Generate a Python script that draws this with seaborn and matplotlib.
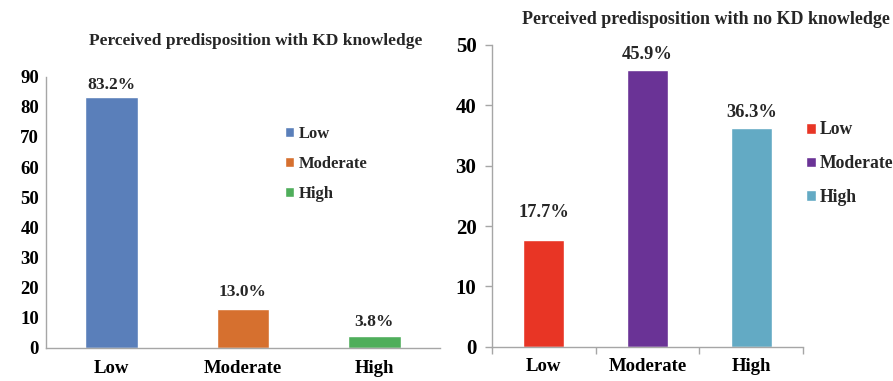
import matplotlib
matplotlib.use("Agg")
import matplotlib.pyplot as plt
import seaborn as sns
import pandas as pd

categories = ["Low", "Moderate", "High"]
with_kd = [83.2, 13.0, 3.8]
no_kd = [17.7, 45.9, 36.3]
with_kd_labels = ["83.2%", "13.0%", "3.8%"]
no_kd_labels = ["17.7%", "45.9%", "36.3%"]
title_left = "Perceived predisposition with KD knowledge"
title_right = "Perceived predisposition with no KD knowledge"
left_yticks = [0, 10, 20, 30, 40, 50, 60, 70, 80, 90]
right_yticks = [0, 10, 20, 30, 40, 50]

colors_left = ["#5A7FBA", "#D6702F", "#4FAE5B"]
colors_right = ["#E83525", "#6A3396", "#63AAC4"]

sns.set_theme(style="white")
plt.rcParams["font.family"] = ["Liberation Serif", "DejaVu Serif"]
plt.rcParams["font.weight"] = "bold"

W, H = 893, 381
fig = plt.figure(figsize=(W / 100, H / 100), dpi=100)

def px_axes(x0, y_top, x1, y_bot):
    return fig.add_axes([x0 / W, 1 - y_bot / H, (x1 - x0) / W, (y_bot - y_top) / H])

axL = px_axes(46, 76.7, 440, 347.7)
axR = px_axes(491.7, 45, 803.3, 346.7)

dfL = pd.DataFrame({"cat": categories, "val": with_kd})
dfR = pd.DataFrame({"cat": categories, "val": no_kd})

sns.barplot(data=dfL, x="cat", y="val", hue="cat", palette=colors_left,
            width=0.4, ax=axL, legend=True, saturation=1)
sns.barplot(data=dfR, x="cat", y="val", hue="cat", palette=colors_right,
            width=0.4, ax=axR, legend=True, saturation=1)

spine_col = "#A6A6A6"
for ax, yt, top in [(axL, left_yticks, 90), (axR, right_yticks, 50)]:
    ax.set_ylim(0, top)
    ax.set_xlim(-0.5, 2.5)
    ax.set_yticks(yt)
    ax.set_xlabel("")
    ax.set_ylabel("")
    for s in ["top", "right"]:
        ax.spines[s].set_visible(False)
    for s in ["left", "bottom"]:
        ax.spines[s].set_color(spine_col)
        ax.spines[s].set_linewidth(1.0)

# left: no tick marks
axL.tick_params(axis="y", length=0, pad=5, labelsize=13.5, labelcolor="black")
axL.tick_params(axis="x", length=0, pad=9, labelsize=13.5, labelcolor="black")
# right: outward tick marks
axR.tick_params(axis="y", length=5, width=1, color=spine_col, direction="out",
                pad=6, labelsize=15, labelcolor="black", left=True)
axR.set_xticks([-0.5, 0.5, 1.5, 2.5], minor=True)
axR.tick_params(axis="x", which="major", length=0, pad=8, labelsize=13.5, labelcolor="black")
axR.tick_params(axis="x", which="minor", length=5, width=1, color=spine_col,
                direction="out", bottom=True)
for ax in (axL, axR):
    for lab in ax.get_xticklabels() + ax.get_yticklabels():
        lab.set_fontweight("bold")

# value labels
def add_labels(ax, labels, pads, fs):
    patches = [p for c in ax.containers for p in c]
    patches.sort(key=lambda p: p.get_x())
    for p, lab, pad in zip(patches, labels, pads):
        ax.annotate(lab, (p.get_x() + p.get_width() / 2, p.get_height()),
                    xytext=(0, pad), textcoords="offset points",
                    ha="center", va="bottom", fontsize=fs, fontweight="bold")

add_labels(axL, with_kd_labels, [3.0, 6.0, 4.5], 12.5)
add_labels(axR, no_kd_labels, [13.5, 4.5, 5.0], 13.3)

# legends
def place_legend(ax, x, y, spacing, fs):
    handles, labels = ax.get_legend_handles_labels()
    leg = ax.legend(handles, labels, loc="upper left", bbox_to_anchor=(x / W, 1 - y / H),
                    bbox_transform=fig.transFigure, frameon=False, fontsize=fs,
                    handlelength=0.55, handleheight=0.55, handletextpad=0.25,
                    labelspacing=spacing, borderpad=0, borderaxespad=0)
    for t in leg.get_texts():
        t.set_fontweight("bold")

place_legend(axL, 285, 126, 0.85, 12)
place_legend(axR, 806, 121.5, 0.95, 12.7)

fig.text(256 / W, 1 - 41 / H, title_left, ha="center", va="center",
         fontsize=12.5, fontweight="bold")
fig.text(706 / W, 1 - 19 / H, title_right, ha="center", va="center",
         fontsize=13, fontweight="bold")

fig.savefig("out.png", dpi=100, facecolor="white")
